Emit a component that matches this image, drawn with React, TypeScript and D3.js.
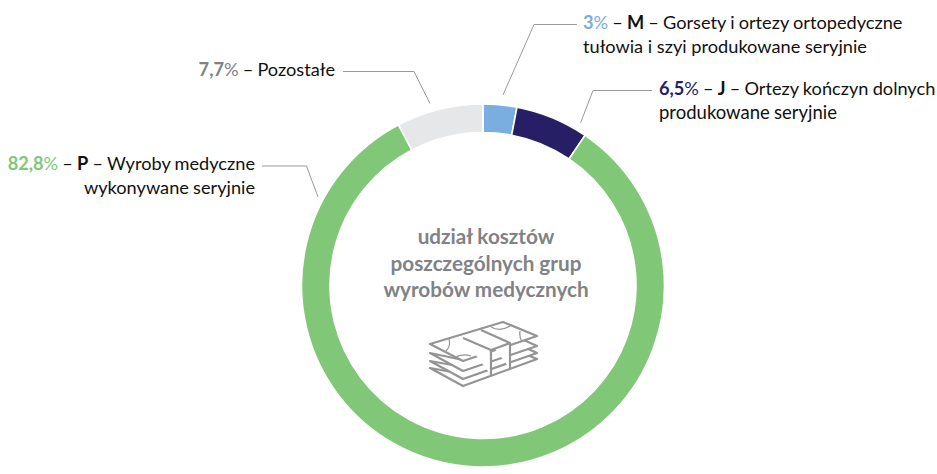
import React from "react";
import * as d3 from "d3";

const segmentNames = ["M", "J", "P", "Pozostale"];
const segmentValues = [3, 6.5, 82.8, 7.7];
const segmentColors = ["#7aaee0", "#261f66", "#80c878", "#e6e7e9"];

const FONT = "Lato, sans-serif";
const TEXT = "#111111";

const leaders = [
  [[577, 24.5], [534, 24.5], [503, 95]],
  [[652, 90.5], [593, 90.5], [580.5, 123]],
  [[343, 71.5], [414, 71.5], [430, 103.5]],
  [[262, 166], [306.5, 166], [318, 197]],
];

const Pct = ({ v, c }: { v: string; c: string }) => (
  <>
    <tspan fontWeight={700} fill={c}>{v}</tspan>
    <tspan fill={c}>%</tspan>
  </>
);

export default function App() {
  const cx = 483, cy = 285.5;
  const pie = d3.pie<number>().sort(null).value((d) => d);
  const arc = d3.arc<d3.PieArcDatum<number>>().innerRadius(153).outerRadius(181.5);
  const arcs = pie(segmentValues);
  const line = d3.line();
  return (
    <svg width={937} height={474} style={{ position: "absolute", left: 0, top: 0, wordSpacing: "-0.5px" }} fontFamily={FONT} fontSize={18.2}>
      <g transform={`translate(${cx},${cy})`}>
        {arcs.map((a, i) => (
          <path key={segmentNames[i]} d={arc(a) || ""} fill={segmentColors[i]} stroke="#fff" strokeWidth={1.6} />
        ))}
      </g>
      {leaders.map((l, i) => (
        <path key={i} d={line(l as [number, number][]) || ""} fill="none" stroke="#9a9a9a" strokeWidth={1} />
      ))}
      <text x={583} y={29} fill={TEXT}><Pct v="3" c={segmentColors[0]} /> – <tspan fontWeight={700}>M</tspan> – Gorsety i ortezy ortopedyczne</text>
      <text x={583} y={53} fill={TEXT} style={{ wordSpacing: 0 }}>tułowia i szyi produkowane seryjnie</text>
      <text x={659} y={95} fill={TEXT}><Pct v="6,5" c={segmentColors[1]} /> – <tspan fontWeight={700}>J</tspan> – Ortezy kończyn dolnych</text>
      <text x={659} y={119} fill={TEXT} fontSize={18.5}>produkowane seryjnie</text>
      <text x={335} y={76} textAnchor="end" fill={TEXT}><Pct v="7,7" c="#808285" /> – Pozostałe</text>
      <text x={255} y={170} textAnchor="end" fill={TEXT}><Pct v="82,8" c={segmentColors[2]} /> – <tspan fontWeight={700}>P</tspan> – Wyroby medyczne</text>
      <text x={255} y={194} textAnchor="end" fill={TEXT}>wykonywane seryjnie</text>
      <g textAnchor="middle" fontWeight={700} fill="#808285" fontSize={20.7} style={{ wordSpacing: 0 }}>
        <text x={486} y={244}>udział kosztów</text>
        <text x={486} y={270.5}>poszczególnych grup</text>
        <text x={486} y={296.5}>wyrobów medycznych</text>
      </g>
      <g fill="#fff" stroke="#949494" strokeWidth={2.2} strokeLinejoin="round">
        <path d="M430 368 L463 386 L537 359 L515 350 L463 374 Z" />
        <path d="M430 361 L463 379 L537 353 L515 343 L463 367 Z" />
        <path d="M430 353 L463 371 L537 346 L515 336 L463 360 Z" />
        <path d="M430 344 L503 322 L537 336 L463 361 Z" />
        <path d="M463 338 L491 350 L491 375 M481 330 L510 343 L510 369" fill="#fff" />
        <path d="M491 350 L510 343" />
        <path d="M449 339 Q451 346 446 351 M454 358 Q462 353 471 356 M491 327 Q500 332 510 326 M520 331 Q519 337 522 342" fill="none" strokeWidth={1.2} />
      </g>
    </svg>
  );
}
